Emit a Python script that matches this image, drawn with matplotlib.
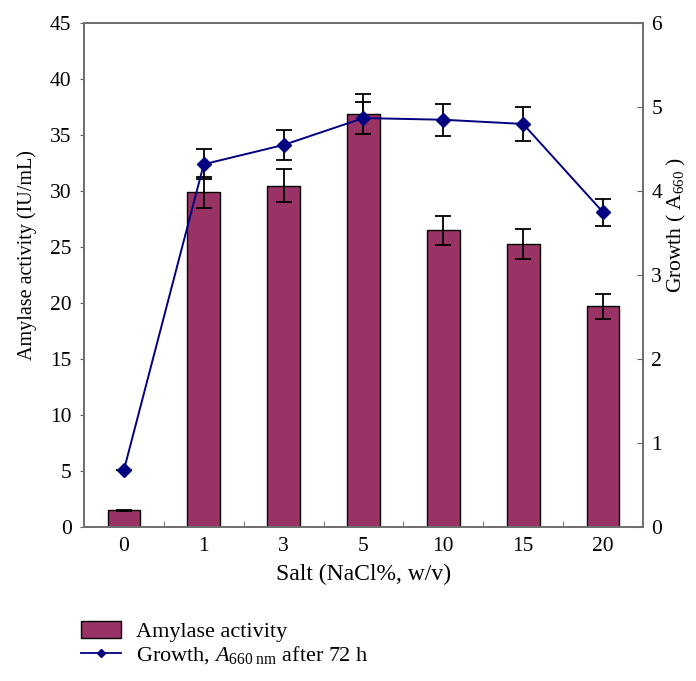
#!/usr/bin/env python3

import numpy as np
import matplotlib.pyplot as plt
from matplotlib.ticker import FixedLocator

plt.rcParams['font.family'] = ['Liberation Serif', 'DejaVu Serif']
plt.rcParams['mathtext.fontset'] = 'custom'
plt.rcParams['mathtext.rm'] = 'Liberation Serif'
plt.rcParams['mathtext.it'] = 'Liberation Serif:italic'

salt = ["0", "1", "3", "5", "10", "15", "20"]
amylase = [1.5, 29.9, 30.5, 36.9, 26.5, 25.3, 19.7]
amylase_err = [0.05, 1.4, 1.5, 1.8, 1.3, 1.35, 1.1]
growth = [0.68, 4.32, 4.55, 4.87, 4.85, 4.80, 3.75]
growth_err = [0.0, 0.18, 0.18, 0.19, 0.19, 0.2, 0.16]

x = np.arange(len(salt))

fig = plt.figure(figsize=(6.96, 6.81), dpi=100)
ax = fig.add_axes([0.1207, 0.226, 0.803, 0.740])
ax2 = ax.twinx()

bars = ax.bar(x, amylase, width=0.41, color="#993366", edgecolor="black",
              linewidth=1.0, yerr=amylase_err, capsize=6,
              error_kw=dict(ecolor="black", elinewidth=1.3, capthick=1.3),
              label="Amylase activity")
ax2.errorbar(x, growth, yerr=growth_err, color="#000080", marker="D",
             markersize=7, linewidth=1.4, ecolor="black", elinewidth=1.3,
             capsize=6, capthick=1.3, zorder=5)
line, = ax2.plot([], [], color="#000080", marker="D", markersize=4, linewidth=1.3)

ax.set_xlim(-0.5, 6.5)
ax.set_ylim(0, 45)
ax2.set_ylim(0, 6)
ax.set_yticks(np.arange(0, 46, 5))
ax2.set_yticks(np.arange(0, 7, 1))
ax.set_xticks(x)
ax.set_xticklabels(salt)
ax.xaxis.set_minor_locator(FixedLocator(x[:-1] + 0.5))
ax.tick_params(axis="x", which="major", length=0, labelsize=15.5, pad=7)
ax.tick_params(axis="x", which="minor", direction="in", length=4, color="#606060")
ax.tick_params(axis="y", direction="out", length=3, labelsize=15.5, pad=6, color="#606060")
ax2.tick_params(axis="y", direction="in", length=4, labelsize=15.5, pad=6, color="#606060")

for a in (ax, ax2):
    for s in a.spines.values():
        s.set_color("#707070")
        s.set_linewidth(1.3)

ax.set_xlabel("Salt (NaCl%, w/v)", fontsize=17, labelpad=6)
ax.set_ylabel("Amylase activity (IU/mL)", fontsize=14.5)
ax.yaxis.set_label_coords(-0.084, 0.54)
ax2.set_ylabel("Growth ( A$_{660}$ )", fontsize=15.5)
ax2.yaxis.set_label_coords(1.04, 0.60)

fig.legend([bars, line],
           ["Amylase activity", "Growth, $\\mathit{A}_{660\\ \\mathrm{nm}}$ after 72 h"],
           loc="upper left", bbox_to_anchor=(0.116, 0.088), frameon=False,
           borderpad=0, borderaxespad=0, fontsize=16, handlelength=1.8,
           handleheight=0.8, handletextpad=0.7, labelspacing=0.1)

plt.savefig("out.png", dpi=100)
